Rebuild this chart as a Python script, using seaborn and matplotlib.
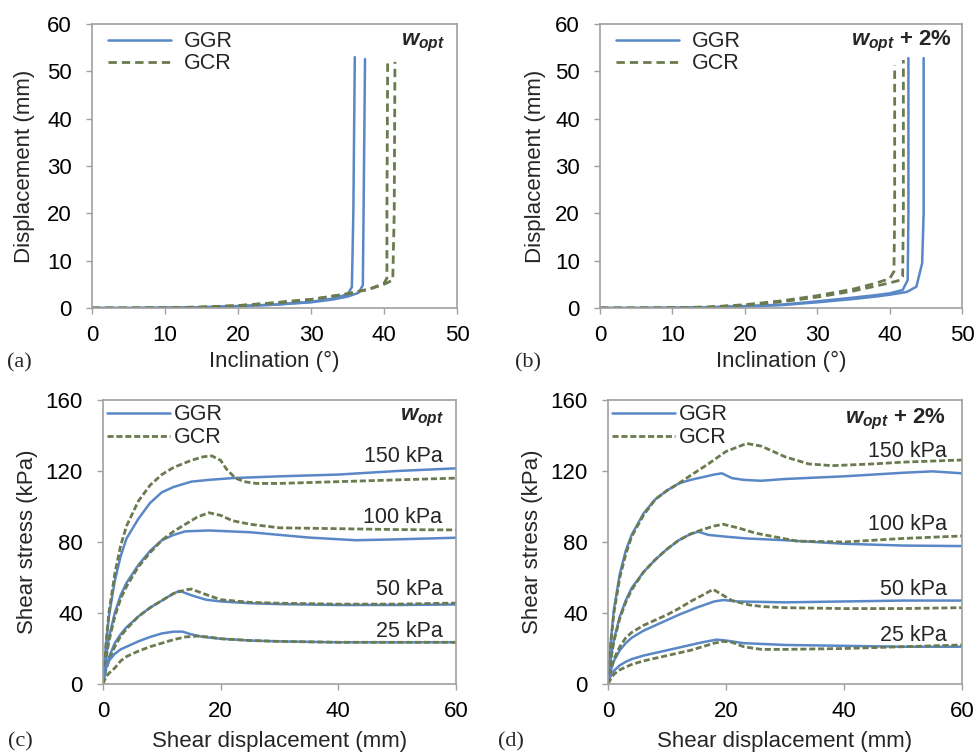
import numpy as np
import pandas as pd
import matplotlib
matplotlib.use("Agg")
import matplotlib.pyplot as plt
from matplotlib.lines import Line2D
import seaborn as sns

# Couleurs
BLEU = '#5A88C6'
VERT = '#6B7A4F'
GRIS = '#A0A0A0'

# ---- (a) inclinaison / déplacement, w_opt ----
a_ggr1_x = [0, 5, 10, 15, 20, 25, 30, 33, 35, 35.6, 35.8, 36.0]
a_ggr1_y = [0, 0, 0.05, 0.15, 0.4, 0.7, 1.3, 2.0, 2.9, 4.4, 20, 53]
a_ggr2_x = [0, 5, 10, 15, 20, 25, 30, 33, 35, 36.5, 37.1, 37.2, 37.4]
a_ggr2_y = [0, 0, 0.05, 0.15, 0.4, 0.7, 1.2, 1.8, 2.4, 3.2, 4.8, 20, 52.6]
a_gcr1_x = [0, 5, 10, 15, 20, 25, 30, 35, 38, 40, 40.4, 40.4, 40.5]
a_gcr1_y = [0, 0, 0.05, 0.2, 0.5, 1.1, 1.8, 3.0, 4.0, 5.2, 6.3, 20, 52]
a_gcr2_x = [0, 5, 10, 15, 20, 25, 30, 35, 38, 40, 41.2, 41.4, 41.5]
a_gcr2_y = [0, 0, 0.05, 0.2, 0.5, 1.1, 1.8, 3.0, 4.0, 5.0, 5.9, 20, 52]

# ---- (b) inclinaison / déplacement, w_opt + 2% ----
b_ggr1_x = [0, 5, 10, 15, 20, 25, 30, 35, 38, 40, 41.8, 42.5, 42.6, 42.6]
b_ggr1_y = [0, 0, 0.05, 0.15, 0.4, 0.7, 1.4, 2.2, 2.7, 3.1, 3.8, 5.9, 20, 52.8]
b_ggr2_x = [0, 5, 10, 15, 20, 25, 30, 35, 38, 40, 42.4, 43.7, 44.5, 44.7, 44.7]
b_ggr2_y = [0, 0, 0.05, 0.15, 0.35, 0.6, 1.2, 1.9, 2.4, 2.8, 3.4, 4.5, 9.5, 20, 52.8]
b_gcr1_x = [0, 5, 10, 15, 20, 25, 30, 35, 38, 40, 40.6, 40.7, 40.7]
b_gcr1_y = [0, 0, 0.05, 0.2, 0.7, 1.5, 2.6, 4.0, 5.2, 6.2, 7.7, 20, 51.3]
b_gcr2_x = [0, 5, 10, 15, 20, 25, 30, 35, 38, 40, 41.5, 41.8, 41.9, 41.9]
b_gcr2_y = [0, 0, 0.05, 0.2, 0.6, 1.3, 2.3, 3.6, 4.6, 5.3, 5.9, 6.6, 20, 52.4]

# ---- (c) cisaillement, w_opt ----
c_150_ggr_x = [0, 0.5, 1, 2, 3, 4, 6, 8, 10, 12, 15, 18, 22, 30, 40, 50, 60]
c_150_ggr_y = [0, 22, 38, 58, 72, 82, 93, 102, 108, 111, 114, 115, 116, 117, 118, 120, 121.5]
c_150_gcr_x = [0, 0.5, 1, 2, 3, 4, 6, 8, 10, 12, 15, 17, 18.5, 20, 21, 22.5, 24, 26, 30, 40, 50, 60]
c_150_gcr_y = [0, 22, 40, 62, 78, 89, 103, 112, 118, 122, 126, 128, 128.5, 126, 121, 116, 114, 113, 113, 114, 115, 116]
c_100_ggr_x = [0, 0.5, 1, 2, 3, 4, 6, 8, 10, 12, 14, 18, 25, 30, 35, 43, 50, 60]
c_100_ggr_y = [0, 15, 26, 40, 50, 57, 67, 75, 81, 84, 86, 86.5, 85.5, 84, 82.5, 81, 81.5, 82.4]
c_100_gcr_x = [0, 0.5, 1, 2, 3, 4, 6, 8, 10, 12, 14, 16, 18, 20, 22, 25, 30, 40, 50, 60]
c_100_gcr_y = [0, 14, 24, 38, 48, 55, 66, 74, 81, 86, 90, 94, 96.5, 95, 92, 90, 88, 87.5, 87, 86.8]
c_50_ggr_x = [0, 0.5, 1, 2, 3, 4, 6, 8, 10, 12, 13, 15, 17.5, 20, 25, 30, 40, 50, 60]
c_50_ggr_y = [0, 9, 15, 23, 28, 32, 38, 43, 47, 51, 52.5, 50, 47.5, 46.5, 45.5, 45, 44.5, 44.5, 44.8]
c_50_gcr_x = [0, 0.5, 1, 2, 3, 4, 6, 8, 10, 12, 14, 15, 17, 20, 25, 30, 40, 50, 60]
c_50_gcr_y = [0, 8, 13, 21, 27, 31, 38, 43, 47, 51, 53, 53.5, 51, 47.5, 46, 45.5, 45, 45, 45.6]
c_25_ggr_x = [0, 0.5, 1, 2, 3, 4, 6, 8, 10, 12, 13.5, 15, 17, 20, 25, 30, 40, 50, 60]
c_25_ggr_y = [0, 9, 13, 17, 19.5, 21, 24, 26.5, 28.5, 29.5, 29.5, 28, 26.5, 25.5, 24.5, 24, 23.5, 23.5, 23.5]
c_25_gcr_x = [0, 0.5, 1, 2, 3, 4, 6, 8, 10, 12, 14, 16, 18, 20, 25, 30, 40, 50, 60]
c_25_gcr_y = [0, 4, 6, 9, 13, 15.5, 18.5, 21, 23, 25, 26.5, 27, 26.5, 25.5, 24.5, 24, 23.5, 23.5, 23.5]

# ---- (d) cisaillement, w_opt + 2% ----
d_150_ggr_x = [0, 0.5, 1, 2, 3, 4, 6, 8, 10, 12, 14, 16, 18, 19.3, 21, 23, 26, 30, 40, 50, 55, 60]
d_150_ggr_y = [0, 25, 42, 62, 75, 84, 96, 104, 109, 113, 115, 116.5, 118, 118.7, 116, 115, 114.5, 115.5, 117, 119, 119.8, 118.7]
d_150_gcr_x = [0, 0.5, 1, 2, 3, 4, 6, 8, 10, 12, 14, 17, 20, 23.5, 26, 30, 34, 38, 45, 50, 60]
d_150_gcr_y = [0, 24, 40, 60, 73, 83, 95, 104, 109, 113, 117.5, 124, 131, 135.5, 134, 128, 124, 123, 124, 125, 126.2]
d_100_ggr_x = [0, 0.5, 1, 2, 3, 4, 6, 8, 10, 12, 14, 15.3, 17, 20, 23.5, 30, 40, 50, 60]
d_100_ggr_y = [0, 15, 25, 38, 47, 54, 63, 70, 76, 81, 84.5, 85.8, 84, 83, 82, 81, 79, 78, 77.7]
d_100_gcr_x = [0, 0.5, 1, 2, 3, 4, 6, 8, 10, 12, 14, 16, 18, 19.5, 22, 25, 32, 40, 50, 60]
d_100_gcr_y = [0, 14, 24, 37, 46, 53, 63, 70, 76, 81, 84.5, 87, 89, 90, 88, 85, 80.5, 80, 82, 83.4]
d_50_ggr_x = [0, 0.5, 1, 2, 3, 4, 6, 8, 10, 12, 15, 18, 19.5, 22, 30, 40, 50, 60]
d_50_ggr_y = [0, 8, 13, 19, 23, 26, 30, 33, 36, 39, 43, 46.5, 47.3, 46.5, 46, 46.5, 47, 47]
d_50_gcr_x = [0, 0.5, 1, 2, 3, 4, 6, 8, 10, 12, 14, 16, 17.8, 19, 21, 24, 26.3, 30, 40, 50, 60]
d_50_gcr_y = [0, 8, 14, 21, 26, 29, 33, 36, 39, 42.5, 46.5, 50, 53.3, 51, 47, 44.5, 43.6, 43, 42.5, 42.5, 43]
d_25_ggr_x = [0, 0.5, 1, 2, 3, 4, 6, 8, 10, 12, 14, 16, 18.4, 20, 23, 30, 40, 50, 60]
d_25_ggr_y = [0, 5, 7.5, 10.5, 12.5, 14, 16, 17.5, 19, 20.5, 22, 23.5, 25, 24.5, 23, 22, 21.5, 21, 21]
d_25_gcr_x = [0, 0.5, 1, 2, 3, 4, 6, 8, 10, 12, 14, 16, 18, 19.5, 21, 23, 26, 30, 40, 50, 60]
d_25_gcr_y = [0, 3, 5.5, 8, 9.5, 11, 13, 14.5, 16, 17.5, 19, 21, 23, 24, 23.5, 21, 19.5, 19.5, 20, 21, 22]

# étiquettes
pressions = ['150 kPa', '100 kPa', '50 kPa', '25 kPa']
c_lab_y = [128, 94, 53.5, 29.6]
d_lab_y = [131, 89.6, 53, 27.6]

sns.set_style('white')
plt.rcParams['font.family'] = ['Liberation Sans', 'DejaVu Sans']
plt.rcParams['mathtext.fontset'] = 'custom'
plt.rcParams['mathtext.it'] = 'Liberation Sans:italic:bold'
plt.rcParams['mathtext.rm'] = 'Liberation Sans:bold'

FS = 16      # graduations et titres d'axes
FS_T = 15.5  # légende et étiquettes kPa

W, H = 979, 752
fig = plt.figure(figsize=(W / 100, H / 100), dpi=100)


def make_ax(left, top, right, bottom):
    return fig.add_axes([left / W, 1 - bottom / H, (right - left) / W, (bottom - top) / H])


def style_ax(ax, xmax, xstep, ymax, ystep):
    ax.set_xlim(0, xmax)
    ax.set_ylim(0, ymax)
    ax.set_xticks(np.arange(0, xmax + 1, xstep))
    ax.set_yticks(np.arange(0, ymax + 1, ystep))
    for s in ax.spines.values():
        s.set_color(GRIS)
        s.set_linewidth(1.2)
    ax.tick_params(axis='both', which='both', direction='out', length=4.5, width=1,
                   color=GRIS, labelsize=FS, labelcolor='black', bottom=True, left=True)
    ax.tick_params(axis='x', pad=8)
    ax.tick_params(axis='y', pad=10)


def courbe(ax, x, y, ggr, dash=(3, 1.8), lw_d=2.0):
    df = pd.DataFrame({'x': x, 'y': y})
    if ggr:
        sns.lineplot(data=df, x='x', y='y', sort=False, estimator=None, ax=ax,
                     color=BLEU, lw=1.8, legend=False)
    else:
        sns.lineplot(data=df, x='x', y='y', sort=False, estimator=None, ax=ax,
                     color=VERT, lw=lw_d, legend=False)
        ax.lines[-1].set_dashes(dash)


def legende(ax, dash, lw_d, spacing, textpad, anchor):
    h = [Line2D([], [], color=BLEU, lw=1.8),
         Line2D([], [], color=VERT, lw=lw_d, dashes=dash)]
    ax.legend(h, ['GGR', 'GCR'], loc='upper left', bbox_to_anchor=anchor,
              frameon=False, fontsize=FS_T, handlelength=2.9, handletextpad=textpad,
              labelspacing=spacing, borderaxespad=0, borderpad=0)


# ---- panneaux du haut ----
ax_a = make_ax(92, 24, 457, 308)
ax_b = make_ax(600, 24, 962, 308)
for ax, series in [
    (ax_a, [(a_ggr1_x, a_ggr1_y, True), (a_ggr2_x, a_ggr2_y, True),
            (a_gcr1_x, a_gcr1_y, False), (a_gcr2_x, a_gcr2_y, False)]),
    (ax_b, [(b_ggr1_x, b_ggr1_y, True), (b_ggr2_x, b_ggr2_y, True),
            (b_gcr1_x, b_gcr1_y, False), (b_gcr2_x, b_gcr2_y, False)]),
]:
    for x, y, g in series:
        courbe(ax, x, y, g, dash=(3, 1.8), lw_d=2.0)
    style_ax(ax, 50, 10, 60, 10)
    ax.set_xlabel('Inclination (°)', fontsize=FS)
    ax.set_ylabel('Displacement (mm)', fontsize=FS)
    ax.xaxis.set_label_coords(0.5, -0.15)
    legende(ax, (3, 1.8), 2.0, 0.05, 0.6, (0.045, 0.975))

ax_a.yaxis.set_label_coords(-0.155, 0.5)
ax_b.yaxis.set_label_coords(-0.15, 0.5)
ax_a.text(48.4, 56, r'$w_{opt}$', fontsize=FS, ha='right', va='center')
ax_b.text(48.6, 56.4, r'$w_{opt}$ + 2%', fontsize=FS, fontweight='bold', ha='right', va='center')

# ---- panneaux du bas ----
ax_c = make_ax(103, 400, 456, 684)
ax_d = make_ax(608, 400, 962, 684)
c_series = [(c_150_ggr_x, c_150_ggr_y, True), (c_150_gcr_x, c_150_gcr_y, False),
            (c_100_ggr_x, c_100_ggr_y, True), (c_100_gcr_x, c_100_gcr_y, False),
            (c_50_ggr_x, c_50_ggr_y, True), (c_50_gcr_x, c_50_gcr_y, False),
            (c_25_ggr_x, c_25_ggr_y, True), (c_25_gcr_x, c_25_gcr_y, False)]
d_series = [(d_150_ggr_x, d_150_ggr_y, True), (d_150_gcr_x, d_150_gcr_y, False),
            (d_100_ggr_x, d_100_ggr_y, True), (d_100_gcr_x, d_100_gcr_y, False),
            (d_50_ggr_x, d_50_ggr_y, True), (d_50_gcr_x, d_50_gcr_y, False),
            (d_25_ggr_x, d_25_ggr_y, True), (d_25_gcr_x, d_25_gcr_y, False)]

for ax, series, lab_y, lab_x in [(ax_c, c_series, c_lab_y, 57.7), (ax_d, d_series, d_lab_y, 57.4)]:
    for x, y, g in series:
        courbe(ax, x, y, g, dash=(2.2, 1.0), lw_d=2.0)
    style_ax(ax, 60, 20, 160, 40)
    ax.set_xlabel('Shear displacement (mm)', fontsize=FS)
    ax.set_ylabel('Shear stress (kPa)', fontsize=FS)
    ax.xaxis.set_label_coords(0.5, -0.165)
    ax.yaxis.set_label_coords(-0.184, 0.5)
    for p, yy in zip(pressions, lab_y):
        ax.text(lab_x, yy, p, fontsize=FS_T, ha='right', va='center')
    legende(ax, (2.2, 1.0), 2.0, 0.1, 0.2, (0.012, 0.985))

ax_c.text(58.0, 150, r'$w_{opt}$', fontsize=FS, ha='right', va='center')
ax_d.text(57.2, 149, r'$w_{opt}$ + 2%', fontsize=FS, fontweight='bold', ha='right', va='center')

# lettres des panneaux
serif = ['Liberation Serif', 'DejaVu Serif']
fig.text(7 / W, 1 - 363 / H, '(a)', fontsize=FS, family=serif, va='center', ha='left')
fig.text(515 / W, 1 - 363 / H, '(b)', fontsize=FS, family=serif, va='center', ha='left')
fig.text(8 / W, 1 - 742 / H, '(c)', fontsize=FS, family=serif, va='center', ha='left')
fig.text(498 / W, 1 - 742 / H, '(d)', fontsize=FS, family=serif, va='center', ha='left')

fig.savefig('out.png', dpi=100)
